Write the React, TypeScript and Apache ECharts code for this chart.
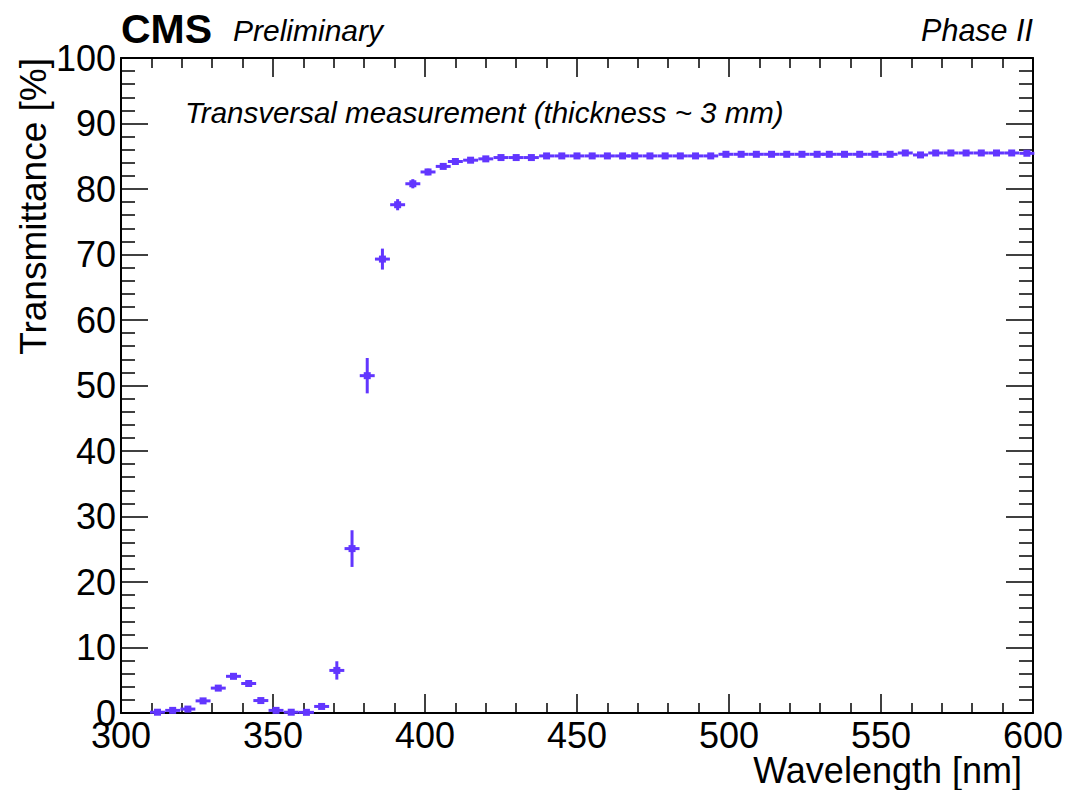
import React, { useEffect, useRef } from "react";
import * as echarts from "echarts";

const wavelength = [
  312, 317, 322, 327, 332, 337, 342, 346, 351, 356, 361, 366, 371,
  376, 381, 386, 391,
  396, 401, 406, 410, 415, 420, 425, 430, 435, 440, 445, 450, 455, 460, 465, 469, 474, 479, 484, 489, 494,
  499, 504, 509, 514, 519, 524, 529, 533, 538, 543, 548, 553, 558, 563, 568, 573, 578, 583, 588, 593, 598,
];

const transmittance = [
  0.12, 0.4, 0.6, 1.85, 3.8, 5.6, 4.5, 1.9, 0.4, 0.12, 0.1, 1.0, 6.5,
  25.1, 51.5, 69.3, 77.6,
  80.8, 82.6, 83.45, 84.2, 84.4, 84.6, 84.8, 84.8, 84.8, 85.05, 85.05, 85.05, 85.05, 85.05, 85.05, 85.05, 85.05, 85.05, 85.05, 85.05, 85.05,
  85.3, 85.3, 85.3, 85.3, 85.3, 85.3, 85.3, 85.3, 85.3, 85.3, 85.3, 85.3, 85.5, 85.2, 85.5, 85.5, 85.5, 85.5, 85.5, 85.5, 85.45,
];

const transmittanceErr = [
  0.3, 0.3, 0.3, 0.3, 0.3, 0.3, 0.3, 0.3, 0.3, 0.3, 0.3, 0.3, 1.4,
  2.8, 2.7, 1.6, 0.85,
  0.7, 0.5, 0.4, 0.4, 0.3, 0.3, 0.3, 0.3, 0.3, 0.3, 0.3, 0.3, 0.3, 0.3, 0.3, 0.3, 0.3, 0.3, 0.3, 0.3, 0.3,
  0.3, 0.3, 0.3, 0.3, 0.3, 0.3, 0.3, 0.3, 0.3, 0.3, 0.3, 0.3, 0.3, 0.3, 0.3, 0.3, 0.3, 0.3, 0.3, 0.3, 0.3,
];

const binHalfWidth = 2.46;

const xTicks = { min: 300, max: 600, interval: 50 };
const yTicks = { min: 0, max: 100, interval: 10 };

const COLOR = "#6236ff";
const FONT = "'Liberation Sans', Arial, Helvetica, sans-serif";

export default function App() {
  const ref = useRef<HTMLDivElement>(null);

  useEffect(() => {
    if (!ref.current) return;
    const chart = echarts.init(ref.current, undefined, { renderer: "svg" });
    const data = wavelength.map((w, i) => [w, transmittance[i], binHalfWidth, transmittanceErr[i]]);

    const axisLine = { show: true, onZero: false, lineStyle: { color: "#000", width: 2 } };

    const option: any = {
      animation: false,
      backgroundColor: "#fff",
      grid: { left: 121, right: 33, top: 58, bottom: 77, containLabel: false },
      xAxis: [
        {
          type: "value",
          position: "bottom",
          min: xTicks.min,
          max: xTicks.max,
          interval: xTicks.interval,
          axisLine,
          axisTick: { show: true, inside: true, length: 19, lineStyle: { color: "#000", width: 1.5 } },
          minorTick: { show: true, splitNumber: 5, length: 10, lineStyle: { color: "#000", width: 1.5 } },
          splitLine: { show: false },
          axisLabel: { show: true, color: "#000", fontSize: 36, fontFamily: FONT, margin: 7, lineHeight: 30 },
        },
        {
          type: "value",
          position: "top",
          min: xTicks.min,
          max: xTicks.max,
          interval: xTicks.interval,
          axisLine,
          axisTick: { show: true, inside: true, length: 19, lineStyle: { color: "#000", width: 1.5 } },
          minorTick: { show: true, splitNumber: 5, length: 10, lineStyle: { color: "#000", width: 1.5 } },
          splitLine: { show: false },
          axisLabel: { show: false },
        },
      ],
      yAxis: [
        {
          type: "value",
          position: "left",
          min: yTicks.min,
          max: yTicks.max,
          interval: yTicks.interval,
          axisLine,
          axisTick: { show: true, inside: true, length: 27, lineStyle: { color: "#000", width: 1.5 } },
          minorTick: { show: true, splitNumber: 5, length: 14, lineStyle: { color: "#000", width: 1.5 } },
          splitLine: { show: false },
          axisLabel: { show: true, color: "#000", fontSize: 36, fontFamily: FONT, margin: 5 },
        },
        {
          type: "value",
          position: "right",
          min: yTicks.min,
          max: yTicks.max,
          interval: yTicks.interval,
          axisLine,
          axisTick: { show: true, inside: true, length: 27, lineStyle: { color: "#000", width: 1.5 } },
          minorTick: { show: true, splitNumber: 5, length: 14, lineStyle: { color: "#000", width: 1.5 } },
          splitLine: { show: false },
          axisLabel: { show: false },
        },
      ],
      series: [
        {
          type: "custom",
          xAxisIndex: 0,
          yAxisIndex: 0,
          data,
          clip: false,
          renderItem: (params: any, api: any) => {
            const x = api.value(0);
            const y = api.value(1);
            const xe = api.value(2);
            const ye = api.value(3);
            const c = api.coord([x, y]);
            const l = api.coord([x - xe, y]);
            const r = api.coord([x + xe, y]);
            const t = api.coord([x, y + ye]);
            const b = api.coord([x, y - ye]);
            return {
              type: "group",
              children: [
                { type: "line", shape: { x1: l[0], y1: c[1], x2: r[0], y2: c[1] }, style: { stroke: COLOR, lineWidth: 3 } },
                { type: "line", shape: { x1: c[0], y1: t[1], x2: c[0], y2: b[1] }, style: { stroke: COLOR, lineWidth: 3 } },
                { type: "rect", shape: { x: c[0] - 3.5, y: c[1] - 3.5, width: 7, height: 7 }, style: { fill: COLOR } },
              ],
            };
          },
        },
      ],
      graphic: [
        { type: "text", left: 121, top: 8, style: { text: "CMS", fontSize: 41, fontWeight: "bold", fontFamily: FONT, fill: "#000" } },
        { type: "text", left: 233, top: 15, style: { text: "Preliminary", fontSize: 30, fontStyle: "italic", fontFamily: FONT, fill: "#000" } },
        { type: "text", right: 33, top: 15, style: { text: "Phase II", fontSize: 30.5, fontStyle: "italic", fontFamily: FONT, fill: "#000" } },
        {
          type: "text", left: 185, top: 97,
          style: { text: "Transversal measurement (thickness ~ 3 mm)", fontSize: 29.5, fontStyle: "italic", fontFamily: FONT, fill: "#000" },
        },
        {
          type: "text", x: 1022, y: 770,
          style: { text: "Wavelength [nm]", fontSize: 36, fontFamily: FONT, fill: "#000", align: "right", verticalAlign: "middle", lineHeight: 30 },
        },
        {
          type: "text", x: 33, y: 58, rotation: Math.PI / 2,
          style: { text: "Transmittance [%]", fontSize: 37, fontFamily: FONT, fill: "#000", align: "right", verticalAlign: "middle" },
        },
      ],
    };
    chart.setOption(option);
    return () => chart.dispose();
  }, []);

  return <div ref={ref} style={{ position: "fixed", left: 0, top: 0, width: 1066, height: 790, background: "#fff" }} />;
}
